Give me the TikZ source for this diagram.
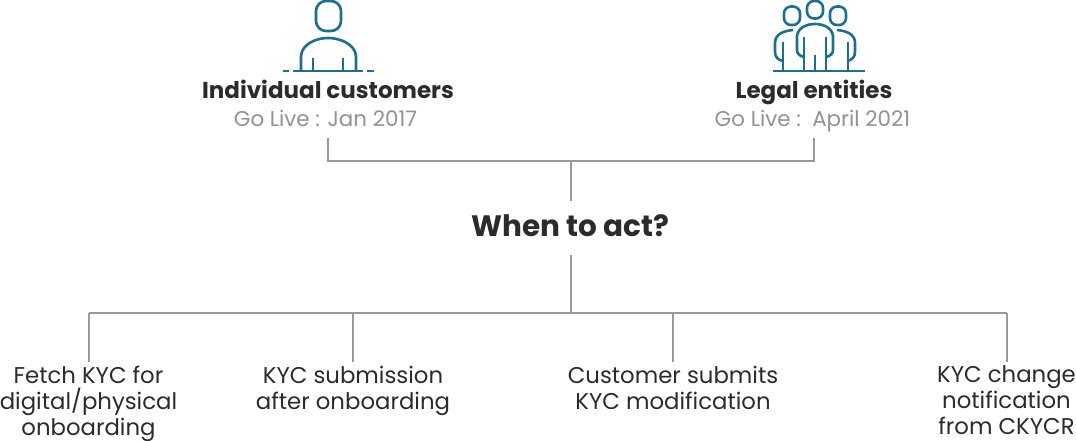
\documentclass[tikz,border=0pt]{standalone}
\usepackage{fontspec}
\setmainfont{Poppins}
\definecolor{teal1}{HTML}{1B6F91}
\definecolor{line1}{HTML}{9A9A9A}
\definecolor{sub1}{HTML}{929292}
\definecolor{ink1}{HTML}{2B2B2B}
\tikzset{
 icon/.style={draw=teal1,line width=2.6pt,line cap=butt},
 conn/.style={draw=line1,line width=2pt},
 title/.style={font=\fontsize{23}{26}\selectfont\bfseries,text=ink1,inner sep=0pt,anchor=base},
 subt/.style={font=\fontsize{21.4}{26}\selectfont,text=sub1,inner sep=0pt,anchor=base},
 item/.style={font=\fontsize{22.8}{26}\selectfont,text=ink1,inner sep=0pt,align=center,anchor=north},
}
\begin{document}
\begin{tikzpicture}[x=1pt,y=-1pt]
\useasboundingbox (0,0) rectangle (1076,441);
% person icon
\draw[icon,rounded corners=10pt] (316,1) rectangle (341,31);
\draw[icon] (301,71) -- (301,56) .. controls (302,44) and (316,38) .. (328,38) .. controls (340,38) and (355,44) .. (356,56) -- (356,71);
\draw[icon] (313,58) -- (313,71) (343,58) -- (343,71);
\draw[icon] (293,71) -- (363,71) (283,71) -- (289,71) (367,71) -- (374,71);
% group icon
\draw[icon,rounded corners=7pt] (807,1) rectangle (823,18.5);
\draw[icon,rounded corners=7pt] (784,6.5) rectangle (800,25);
\draw[icon,rounded corners=7pt] (830,6.5) rectangle (846,25);
\draw[icon] (804,57) .. controls (799,56) and (797,53) .. (797,50) -- (797,36) .. controls (798,28) and (806,24) .. (815,24) .. controls (824,24) and (832,28) .. (833,36) -- (833,50) .. controls (833,53) and (831,56) .. (826,57);
\draw[icon] (804,37) -- (804,71) (826,37) -- (826,71) (815,55) -- (815,71);
\draw[icon] (793,30) .. controls (782,31) and (775,35) .. (775,43) -- (775,52) .. controls (775,57) and (778,60) .. (783,61);
\draw[icon] (837,30) .. controls (848,31) and (855,35) .. (855,43) -- (855,52) .. controls (855,57) and (852,60) .. (847,61);
\draw[icon] (783,42) -- (783,71) (848,42) -- (848,71);
\draw[icon] (773,71) -- (865,71);
% labels
\node[title] (ind) at (328,99) {Individual customers};
\node[subt] (indg) at (325.5,127) {Go Live : Jan 2017};
\node[title] (leg) at (814,99) {Legal entities};
\node[subt] (legg) at (812.5,126.5) {Go Live :\ \ April 2021};
\node[font=\fontsize{29.5}{32}\selectfont\bfseries,text=ink1,inner sep=0pt,anchor=base] (when) at (570.5,236) {When to act?};
\node[item] (a) at (88.5,365.5) {Fetch KYC for\\digital/physical\\onboarding};
\node[item] (b) at (353,366) {KYC submission\\after onboarding};
\node[item] (c) at (673,366) {Customer submits\\KYC modification};
\node[item] (d) at (1006.5,365.5) {KYC change\\notification\\from CKYCR};
% connectors
\coordinate (t1) at (328,138);
\coordinate (t2) at (814,138);
\coordinate (j1) at (570.5,161);
\coordinate (w1) at (570.5,201);
\coordinate (w2) at (570.5,255);
\coordinate (j2) at (570.5,313);
\draw[conn] (t1) |- (j1) -| (t2);
\draw[conn] (j1) -- (w1);
\draw[conn] (w2) -- (j2);
\draw[conn] (a.north |- j2) -- (d.north |- j2);
\foreach \n in {a,b,c,d} \draw[conn,shorten >=4pt] (\n.north |- j2) -- (\n.north);
\end{tikzpicture}
\end{document}
